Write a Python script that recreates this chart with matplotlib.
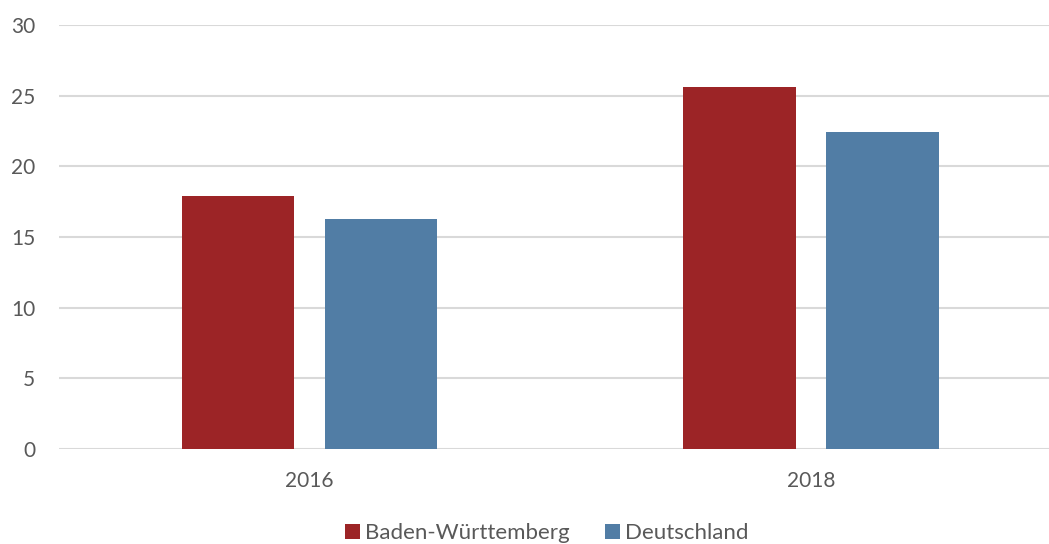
import matplotlib.pyplot as plt
import numpy as np

years = ["2016", "2018"]
bw_values = [17.9, 25.6]
de_values = [16.3, 22.4]
series_names = ["Baden-Württemberg", "Deutschland"]
y_ticks = [0, 5, 10, 15, 20, 25, 30]

plt.rcParams['font.family'] = ['Lato', 'DejaVu Sans']
text_color = "#595959"

fig = plt.figure(figsize=(10.49, 5.44), dpi=100)
ax = fig.add_axes([59 / 1049, 95 / 544, 1 - 59 / 1049, 424 / 544])

x = np.arange(len(years))
width = 0.224
offset = 0.1426
ax.bar(x - offset, bw_values, width, color="#9C2426", label=series_names[0], zorder=3)
ax.bar(x + offset, de_values, width, color="#517DA5", label=series_names[1], zorder=3)

ax.set_xlim(-0.5, 1.475)
ax.set_ylim(0, 30)
ax.set_yticks(y_ticks)
ax.set_xticks(x)
ax.set_xticklabels(years)
ax.yaxis.grid(True, color="#D9D9D9", linewidth=1.5, zorder=0)
ax.set_axisbelow(True)
for s in ax.spines.values():
    s.set_visible(False)
ax.tick_params(axis="both", length=0, labelsize=15, labelcolor=text_color)
ax.tick_params(axis="y", pad=17)
ax.tick_params(axis="x", pad=16)

fig.legend(loc="center", bbox_to_anchor=(547 / 1049, 11 / 544), ncol=2, frameon=False,
           fontsize=16, labelcolor=text_color, handlelength=0.65, handleheight=0.65,
           handletextpad=0.25, columnspacing=1.6)

plt.savefig("out.png", dpi=100)
